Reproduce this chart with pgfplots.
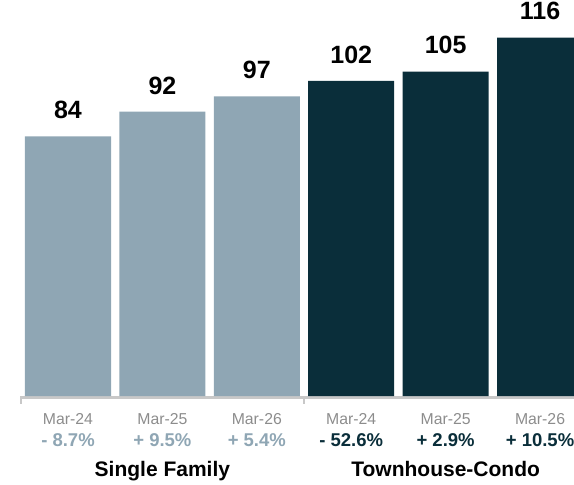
\documentclass[border=0pt]{standalone}
\usepackage{pgfplots}
\pgfplotsset{compat=1.18}
\usepackage{fontspec}
\setmainfont{Liberation Sans}
\definecolor{sf}{HTML}{8FA6B4}
\definecolor{tc}{HTML}{0A2E3A}
\definecolor{tk}{HTML}{8C8C8C}
\definecolor{bl}{HTML}{C8C8C8}
\begin{document}
\begin{tikzpicture}
\begin{axis}[
 scale only axis, width=574pt, height=484pt,
 xmin=-0.7203, xmax=5.360, ymin=-28.48, ymax=128.16,
 axis line style={draw=none}, major tick style={draw=none},
 /pgf/number format/assume math mode=true,
 ytick=\empty, xtick={0,...,5},
 xticklabels={Mar-24,Mar-25,Mar-26,Mar-24,Mar-25,Mar-26},
 xticklabel style={anchor=base, yshift=63.3pt, font=\fontsize{15.8}{18}\selectfont, text=tk, inner sep=0pt},
 ybar, bar width=86pt, bar shift=0pt,
 nodes near coords={\pgfmathprintnumber{\pgfplotspointmeta}},
 every node near coord/.append style={anchor=base, yshift=17.7pt, inner sep=0pt, text=black, font=\bfseries\fontsize{25}{30}\selectfont},
 clip=true,
]
\coordinate (SW) at (rel axis cs:0,0);
\coordinate (NE) at (rel axis cs:1,1);
\draw[bl, line width=3pt] (axis cs:-0.5,-0.49) -- (axis cs:5.36,-0.49);
\draw[bl, line width=2pt] (axis cs:-0.5,0) -- (axis cs:-0.5,-2.6);
\draw[bl, line width=2pt] (axis cs:2.5,0) -- (axis cs:2.5,-2.6);
\addplot[fill=sf, draw=none] coordinates {(0,84) (1,92) (2,97)};
\addplot[fill=tc, draw=none] coordinates {(3,102) (4,105) (5,116)};
\node[anchor=base, inner sep=0pt, text=sf, font=\bfseries\fontsize{18.5}{22}\selectfont] at (axis cs:0,-16.41) {- 8.7\%};
\node[anchor=base, inner sep=0pt, text=sf, font=\bfseries\fontsize{18.5}{22}\selectfont] at (axis cs:1,-16.41) {+ 9.5\%};
\node[anchor=base, inner sep=0pt, text=sf, font=\bfseries\fontsize{18.5}{22}\selectfont] at (axis cs:2,-16.41) {+ 5.4\%};
\node[anchor=base, inner sep=0pt, text=tc, font=\bfseries\fontsize{18.5}{22}\selectfont] at (axis cs:3,-16.41) {- 52.6\%};
\node[anchor=base, inner sep=0pt, text=tc, font=\bfseries\fontsize{18.5}{22}\selectfont] at (axis cs:4,-16.41) {+ 2.9\%};
\node[anchor=base, inner sep=0pt, text=tc, font=\bfseries\fontsize{18.5}{22}\selectfont] at (axis cs:5,-16.41) {+ 10.5\%};
\node[anchor=base, inner sep=0pt, text=black, font=\bfseries\fontsize{21}{24}\selectfont] at (axis cs:1,-26.2) {Single Family};
\node[anchor=base, inner sep=0pt, text=black, font=\bfseries\fontsize{21}{24}\selectfont] at (axis cs:4,-26.2) {Townhouse-Condo};
\end{axis}
\pgfresetboundingbox
\path[use as bounding box] (SW) rectangle (NE);
\end{tikzpicture}
\end{document}
